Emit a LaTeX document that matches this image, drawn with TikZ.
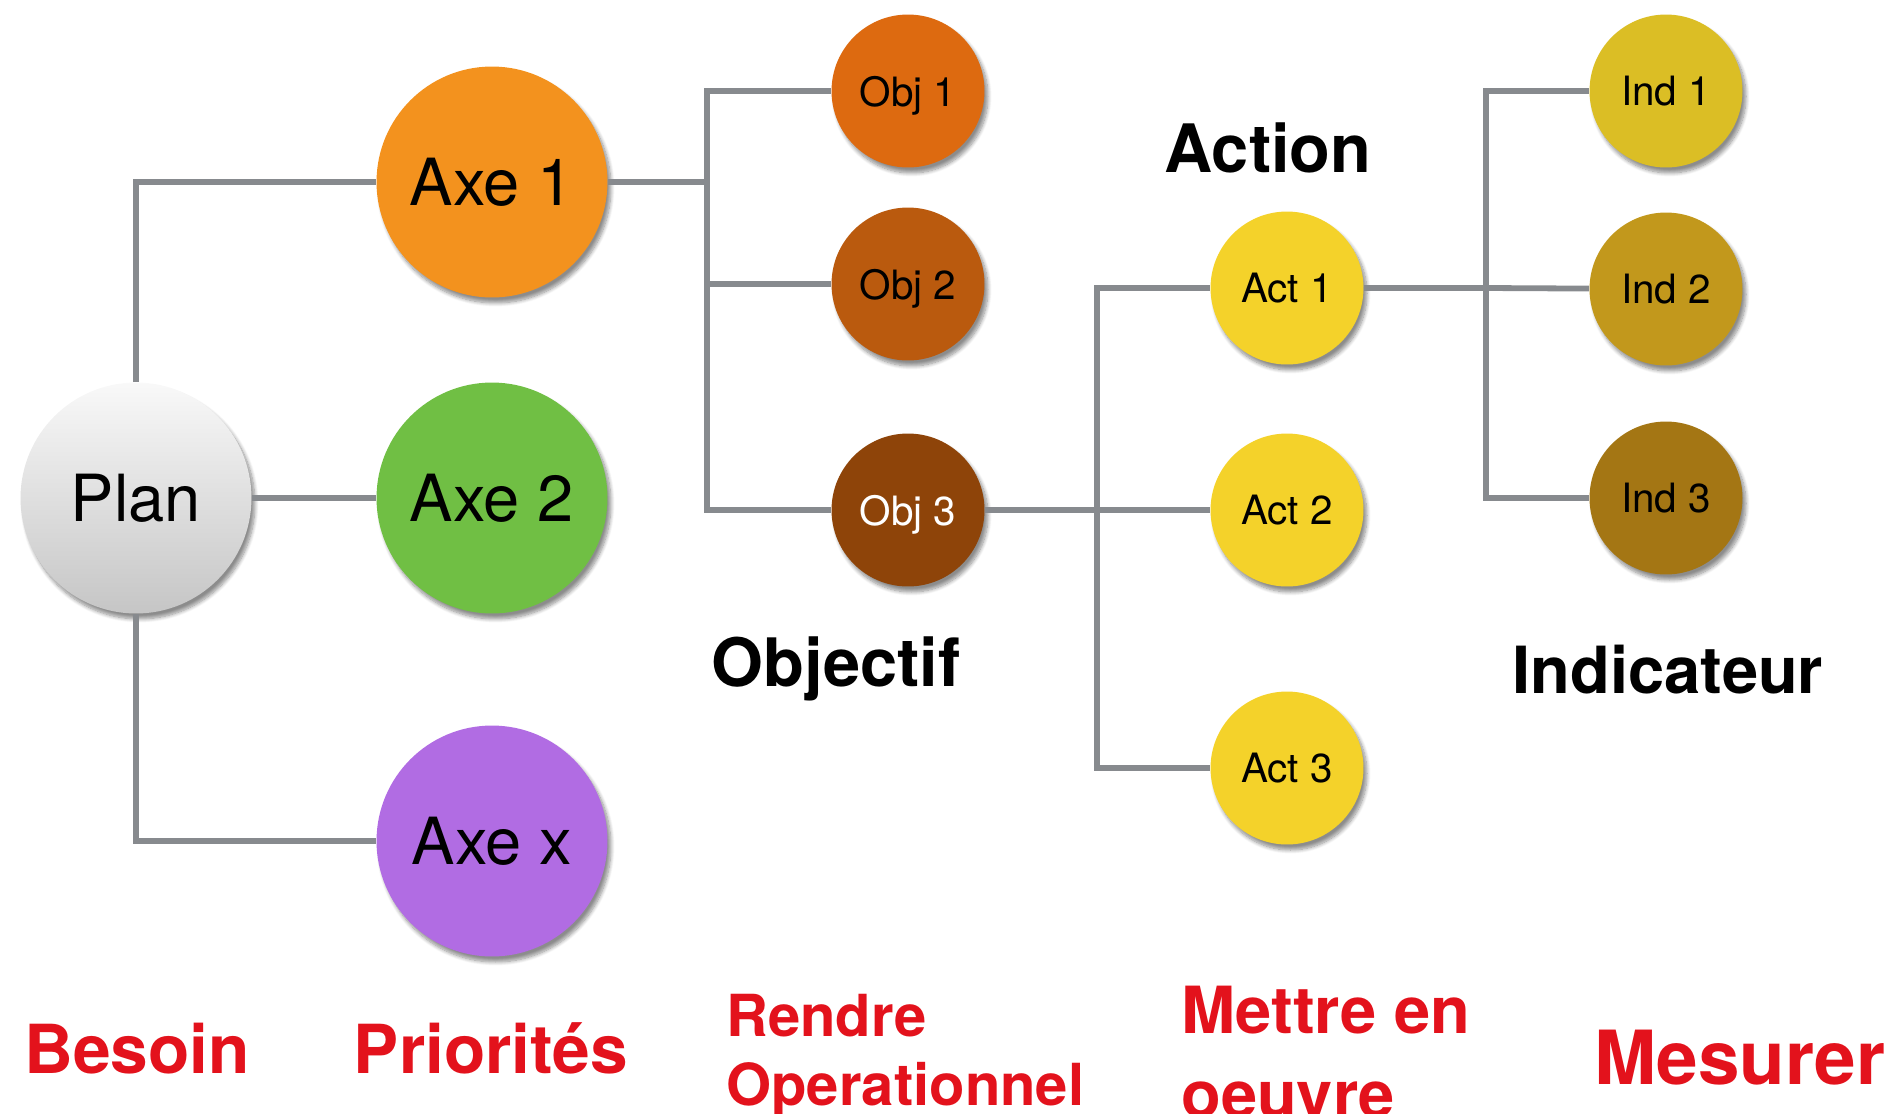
\documentclass[tikz,border=0pt]{standalone}
\usepackage{fontspec}
\setmainfont{TeX Gyre Heros}
\usetikzlibrary{shadows.blur}

\definecolor{linkgray}{HTML}{878A8E}
\definecolor{labelred}{HTML}{E3121C}
\definecolor{axeorange}{HTML}{F3921E}
\definecolor{axegreen}{HTML}{70BF44}
\definecolor{axepurple}{HTML}{B16CE3}
\definecolor{objone}{HTML}{DD6A10}
\definecolor{objtwo}{HTML}{BA5A0E}
\definecolor{objthree}{HTML}{8E4409}
\definecolor{actyellow}{HTML}{F4D22A}
\definecolor{indone}{HTML}{DBBE25}
\definecolor{indtwo}{HTML}{C2981C}
\definecolor{indthree}{HTML}{A47614}

\begin{document}
\begin{tikzpicture}[x=0.02cm,y=-0.02cm,
	link/.style={draw=linkgray,line width=3.3pt},
	bubble/.style={circle,inner sep=0pt,text depth=0pt,
		blur shadow={shadow xshift=0.07cm,shadow yshift=-0.11cm,shadow opacity=45,shadow blur steps=8}},
	bigbubble/.style={bubble,minimum size=4.62cm,font=\fontsize{37}{44}\selectfont},
	smallbubble/.style={bubble,minimum size=3.06cm,font=\fontsize{23}{28}\selectfont},
	head/.style={anchor=base,font=\bfseries\fontsize{38}{46}\selectfont},
	task/.style={text=labelred,align=left,font=\bfseries}]
\useasboundingbox (0,0) rectangle (1894,1113);

% level 1 and 2
\node[bigbubble,top color=gray!5,bottom color=gray!45](plan) at (136,498) {Plan};
\node[bigbubble,fill=axeorange](axe1) at (492,182) {Axe 1};
\node[bigbubble,fill=axegreen](axe2) at (492,498) {Axe 2};
\node[bigbubble,fill=axepurple](axex) at (492,841) {Axe x};

% objectives
\node[smallbubble,fill=objone](obj1) at (908,91) {Obj 1};
\node[smallbubble,fill=objtwo](obj2) at (908,284) {Obj 2};
\node[smallbubble,fill=objthree,text=white](obj3) at (908,510) {Obj 3};

% actions
\node[smallbubble,fill=actyellow](act1) at (1287,288) {Act 1};
\node[smallbubble,fill=actyellow](act2) at (1287,510) {Act 2};
\node[smallbubble,fill=actyellow](act3) at (1287,768) {Act 3};

% indicators
\node[smallbubble,fill=indone](ind1) at (1666,91) {Ind 1};
\node[smallbubble,fill=indtwo](ind2) at (1666,289) {Ind 2};
\node[smallbubble,fill=indthree](ind3) at (1666,498) {Ind 3};

% branch points
\coordinate (jobj) at (707,182);
\coordinate (jact) at (1097,510);
\coordinate (jind) at (1486,288);

\draw[link] (plan) |- (axe1);
\draw[link] (plan) -- (axe2);
\draw[link] (plan) |- (axex);
\draw[link] (axe1) -- (jobj) |- (obj1);
\draw[link] (jobj) |- (obj2);
\draw[link] (jobj) |- (obj3);
\draw[link] (obj3) -- (jact) |- (act1);
\draw[link] (jact) -- (act2);
\draw[link] (jact) |- (act3);
\draw[link] (act1) -- (jind) |- (ind1);
\draw[link] (jind) -- (ind2);
\draw[link] (jind) |- (ind3);

% titles
\node[head](tact) at (1268,172) {Action};
\node[head](tobj) at (836,686) {Objectif};
\node[head,font=\bfseries\fontsize{37}{44}\selectfont](tind) at (1668,693) {Indicateur};

% bottom row
\node[task,anchor=base,font=\bfseries\fontsize{38.5}{46}\selectfont](besoin) at (137,1073) {Besoin};
\node[task,anchor=base,font=\bfseries\fontsize{38.5}{46}\selectfont](prio) at (491,1073) {Priorités};
\node[task,anchor=base west,inner sep=0pt,font=\bfseries\fontsize{33}{39}\selectfont](rendre) at (726,1105) {Rendre\\Operationnel};
\node[task,anchor=base west,inner sep=0pt,font=\bfseries\fontsize{37}{47.6}\selectfont](mettre) at (1181,1117) {Mettre en\\oeuvre};
\node[task,anchor=base west,inner sep=0pt,font=\bfseries\fontsize{42.5}{50}\selectfont](mesurer) at (1594,1084) {Mesurer};
\end{tikzpicture}
\end{document}
